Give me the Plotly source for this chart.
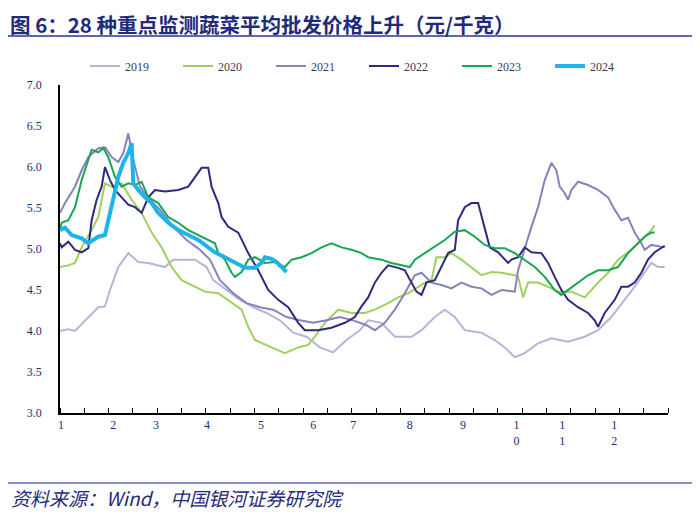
import plotly.graph_objects as go

# ---- data (day of year, average wholesale price, yuan/kg) ----
days_2019 = [1,6,10,18,24,28,31,36,42,48,54,64,69,74,82,89,93,101,109,117,125,133,141,149,157,165,173,181,186,194,202,212,218,226,232,238,244,254,262,268,274,280,288,296,306,316,324,332,340,346,350,354,356,360,364]
price_2019 = [4.0,4.02,4.0,4.17,4.29,4.3,4.5,4.78,4.95,4.84,4.83,4.78,4.87,4.87,4.87,4.78,4.62,4.5,4.38,4.29,4.22,4.13,3.98,3.93,3.8,3.74,3.89,4.01,4.13,4.1,3.93,3.93,4.01,4.17,4.26,4.17,4.01,3.98,3.89,3.8,3.68,3.73,3.85,3.91,3.87,3.93,4.01,4.17,4.38,4.54,4.66,4.78,4.83,4.78,4.78]

days_2020 = [1,6,10,14,20,24,28,32,38,44,50,56,62,68,74,82,88,96,104,110,114,118,128,136,144,150,154,160,168,176,184,190,198,204,210,216,220,224,227,232,236,242,248,254,260,266,274,276,279,282,288,294,300,308,316,324,330,336,344,350,356,358]
price_2020 = [4.78,4.8,4.83,5.02,5.23,5.39,5.8,5.76,5.8,5.6,5.44,5.2,5.02,4.78,4.62,4.54,4.48,4.46,4.34,4.26,4.05,3.89,3.8,3.73,3.8,3.83,3.93,4.1,4.26,4.22,4.22,4.26,4.34,4.41,4.46,4.54,4.59,4.62,4.9,4.9,4.95,4.87,4.78,4.68,4.72,4.71,4.68,4.66,4.41,4.59,4.59,4.54,4.48,4.48,4.41,4.59,4.71,4.87,4.99,5.11,5.23,5.29]

days_2021 = [1,4,10,14,18,24,28,32,36,39,42,45,49,55,61,69,77,85,91,97,105,113,121,129,137,145,153,161,169,177,185,190,196,202,208,214,218,224,230,236,242,248,254,260,266,274,276,280,284,288,292,296,299,301,304,306,308,312,318,324,330,334,338,342,346,350,352,356,364]
price_2021 = [5.44,5.56,5.76,5.96,6.12,6.23,6.24,6.12,6.06,6.17,6.41,6.09,5.76,5.6,5.48,5.27,5.11,4.99,4.87,4.62,4.46,4.34,4.29,4.26,4.17,4.13,4.1,4.13,4.17,4.13,4.07,4.01,4.1,4.26,4.46,4.68,4.71,4.59,4.56,4.52,4.59,4.54,4.52,4.44,4.5,4.48,4.74,5.02,5.27,5.51,5.84,6.05,5.96,5.76,5.68,5.6,5.72,5.82,5.78,5.72,5.63,5.48,5.35,5.38,5.2,5.07,4.99,5.05,5.02]

days_2022 = [1,2,6,10,14,18,20,23,26,28,31,34,38,42,46,50,54,58,64,72,78,82,86,90,92,96,98,102,108,114,120,126,132,138,144,148,156,164,172,178,182,186,190,194,198,204,208,212,215,218,221,226,230,234,238,240,244,248,252,256,259,264,270,272,276,280,284,290,294,298,302,306,312,318,322,324,328,334,338,342,346,350,354,358,362,364]
price_2022 = [5.07,5.02,5.09,4.99,4.96,5.01,5.35,5.6,5.76,6.0,5.84,5.72,5.63,5.54,5.51,5.44,5.63,5.72,5.7,5.72,5.76,5.88,5.99,5.99,5.76,5.56,5.39,5.27,5.2,4.95,4.74,4.5,4.38,4.29,4.1,4.01,4.01,4.04,4.1,4.17,4.3,4.41,4.59,4.71,4.8,4.77,4.74,4.59,4.48,4.44,4.59,4.62,4.78,4.95,4.99,5.35,5.51,5.56,5.56,5.27,5.02,4.96,4.83,4.87,4.9,5.02,4.96,4.95,4.83,4.66,4.5,4.38,4.29,4.22,4.13,4.05,4.22,4.38,4.54,4.54,4.59,4.71,4.87,4.96,5.02,5.04]

days_2023 = [1,2,6,10,14,18,20,24,27,30,34,38,42,46,50,54,60,66,72,78,84,90,94,96,100,104,106,110,114,118,124,130,136,140,146,152,158,164,170,176,182,186,194,200,206,211,214,220,226,232,238,244,250,256,262,268,274,280,286,292,298,302,306,312,318,324,330,336,342,348,352,356,358]
price_2023 = [5.23,5.32,5.35,5.51,5.84,6.09,6.21,6.18,6.23,6.12,5.88,5.76,5.8,5.78,5.82,5.63,5.56,5.39,5.32,5.23,5.17,5.11,5.07,4.95,4.87,4.71,4.66,4.72,4.87,4.9,4.83,4.84,4.78,4.87,4.9,4.95,5.02,5.07,5.02,4.99,4.95,4.9,4.87,4.83,4.8,4.78,4.87,4.95,5.02,5.11,5.21,5.23,5.15,5.05,5.01,5.01,4.95,4.87,4.78,4.66,4.5,4.44,4.5,4.59,4.68,4.74,4.74,4.78,4.95,5.07,5.15,5.2,5.2]

days_2024 = [1,4,8,14,18,24,28,31,33,36,39,42,44,45,48,52,56,60,66,72,78,84,90,94,100,106,112,118,122,124,128,131,134,137]
price_2024 = [5.23,5.26,5.17,5.13,5.07,5.15,5.17,5.44,5.63,5.88,6.05,6.17,6.29,5.8,5.72,5.63,5.56,5.44,5.32,5.23,5.17,5.11,5.02,4.96,4.9,4.83,4.77,4.77,4.83,4.9,4.88,4.84,4.78,4.72]

month_tick_days = [1.6, 33, 58.7, 89.3, 121.7, 153, 177, 211, 243, 275, 302.5, 333.7]
month_tick_text = ["1", "2", "3", "4", "5", "6", "7", "8", "9", "1<br>0", "1<br>1", "1<br>2"]

series = [
    ("2019", days_2019, price_2019, "#b7b4da", 2),
    ("2020", days_2020, price_2020, "#9fd05e", 2),
    ("2021", days_2021, price_2021, "#8782bb", 2),
    ("2022", days_2022, price_2022, "#2d2a7e", 2),
    ("2023", days_2023, price_2023, "#19a552", 2),
    ("2024", days_2024, price_2024, "#1eb4ea", 4),
]

serif = "Liberation Serif, Times New Roman, serif"
cjk = "Noto Sans CJK SC, sans-serif"
navy = "#1f2a78"

# the page body adds an 8px offset; layout positions below are page pixels minus 8
OFF = 8
W, H = 700, 523
L, R, T, B = 60 - OFF, 668 - OFF, 85 - OFF, 413 - OFF
def px(xp):
    return (xp - OFF - L) / (R - L)
def py(yp):
    return (B - (yp - OFF)) / (B - T)

fig = go.Figure()
for name, xs, ys, color, w in series:
    fig.add_trace(go.Scatter(x=xs, y=ys, mode="lines", name=name,
                             line=dict(color=color, width=w)))

fig.update_layout(
    width=W, height=H,
    margin=dict(l=L, r=W - R, t=T, b=H - B, autoexpand=False),
    paper_bgcolor="white", plot_bgcolor="white",
    showlegend=True,
    legend=dict(orientation="h", x=0.5, xanchor="center", y=py(66), yanchor="middle",
                font=dict(family=serif, size=12, color="#3a3a55"),
                entrywidth=48, entrywidthmode="pixels", bgcolor="rgba(0,0,0,0)"),
    xaxis=dict(range=[1, 366], showgrid=False, zeroline=False,
               showline=True, linecolor="black", linewidth=1.5,
               tickmode="array", tickvals=month_tick_days, ticktext=month_tick_text,
               ticks="", tickfont=dict(family=serif, size=12, color=navy),
               minor=dict(ticks="inside", ticklen=5, tickcolor="black", tickwidth=1,
                          tick0=1, dtick=14.6, showgrid=False)),
    yaxis=dict(range=[3, 7], dtick=0.5, tickformat=".1f", showgrid=False, zeroline=False,
               showline=True, linecolor="black", linewidth=1.5, ticks="",
               tickfont=dict(family=serif, size=12, color=navy), ticklabelstandoff=14),
)

fig.add_shape(type="line", xref="paper", yref="paper",
              x0=px(8), x1=px(708), y0=py(36), y1=py(36),
              line=dict(color="#2b3590", width=1.5))
fig.add_shape(type="line", xref="paper", yref="paper",
              x0=px(8), x1=px(708), y0=py(483), y1=py(483),
              line=dict(color="#8b8bc6", width=2))

fig.add_annotation(text="<b>图 6：28 种重点监测蔬菜平均批发价格上升（元/千克）</b>",
                   xref="paper", yref="paper", x=px(9), y=py(8),
                   xanchor="left", yanchor="top", showarrow=False, borderpad=0,
                   font=dict(family=cjk, size=20.5, color=navy))
fig.add_annotation(text="<i>资料来源：Wind，中国银河证券研究院</i>",
                   xref="paper", yref="paper", x=px(9), y=py(497),
                   xanchor="left", yanchor="middle", showarrow=False,
                   font=dict(family=cjk, size=19, color=navy))

fig.write_html("out.html")
